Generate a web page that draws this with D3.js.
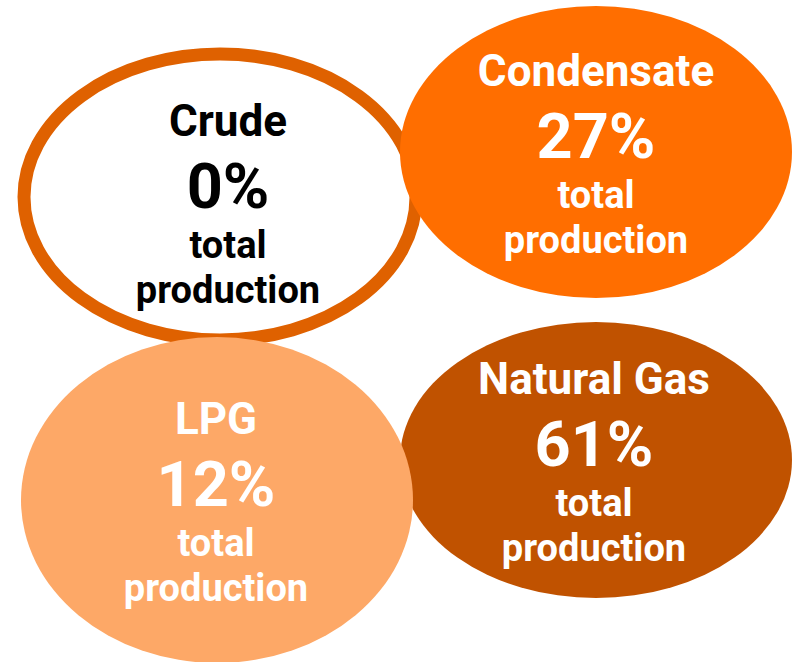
<!DOCTYPE html>
<html>
<head>
<meta charset="utf-8">
<script src="https://cdn.jsdelivr.net/npm/d3@7"></script>
<style>
  html, body { margin: 0; padding: 0; background: #fff; }
  svg { display: block; }
</style>
</head>
<body>
<svg id="chart" width="799" height="662"></svg>
<script>
// dados do gráfico
var categorias = ["Crude", "Condensate", "LPG", "Natural Gas"];
var percentuais = [0, 27, 12, 61];
var subtitulo = ["total", "production"];

// layout (coluna / linha de cada bolha) - separado dos dados
var colunas = [0, 1, 0, 1];
var linhas = [0, 0, 1, 1];
var raiosY = [143, 146, 163, 138];
var ajusteX = [8, 0, -4, -2];
var ajusteY = [5, 0, 0, 0];
var cores = ["#ffffff", "#ff6e00", "#fda867", "#c05200"];
var corTexto = ["#000000", "#ffffff", "#ffffff", "#ffffff"];
var ordemDesenho = [0, 1, 3, 2];

var svg = d3.select("#chart"),
    largura = +svg.attr("width"),
    altura = +svg.attr("height");

var x = d3.scaleBand().domain([0, 1]).range([32, 784]);
var yEsq = d3.scalePoint().domain([0, 1]).range([197, 500]);
var yDir = d3.scalePoint().domain([0, 1]).range([152, 460]);

var dados = categorias.map(function(c, i) {
  return {
    nome: c,
    valor: percentuais[i],
    cx: x(colunas[i]) + x.bandwidth() / 2,
    cy: colunas[i] === 0 ? yEsq(linhas[i]) : yDir(linhas[i]),
    ry: raiosY[i],
    cor: cores[i],
    corTexto: corTexto[i],
    dx: ajusteX[i],
    dy: ajusteY[i]
  };
});

var ordenados = ordemDesenho.map(function(i) { return dados[i]; });

svg.selectAll("ellipse")
  .data(ordenados)
  .enter().append("ellipse")
    .attr("cx", function(d) { return d.nome === "LPG" ? d.cx - 3 : d.cx; })
    .attr("cy", function(d) { return d.cy; })
    .attr("rx", 196)
    .attr("ry", function(d) { return d.ry; })
    .attr("fill", function(d) { return d.cor; })
    .attr("stroke", function(d) { return d.nome === "Crude" ? "#df6100" : "none"; })
    .attr("stroke-width", 13);

var rotulos = svg.selectAll("g.rotulo")
  .data(dados)
  .enter().append("g")
    .attr("class", "rotulo")
    .attr("transform", function(d) {
      return "translate(" + (d.cx + d.dx) + "," + (d.cy + d.dy) + ")";
    })
    .attr("font-family", "Roboto, 'Liberation Sans', sans-serif")
    .attr("font-weight", "bold")
    .attr("text-anchor", "middle")
    .attr("fill", function(d) { return d.corTexto; });

rotulos.append("text")
  .attr("y", -66)
  .attr("font-size", 44)
  .text(function(d) { return d.nome; });

rotulos.append("text")
  .attr("y", 6)
  .attr("font-size", 63)
  .text(function(d) { return d.valor + "%"; });

rotulos.append("text")
  .attr("y", 56)
  .attr("font-size", 38)
  .text(subtitulo[0]);

rotulos.append("text")
  .attr("y", 101)
  .attr("font-size", 38)
  .text(subtitulo[1]);
</script>
</body>
</html>
